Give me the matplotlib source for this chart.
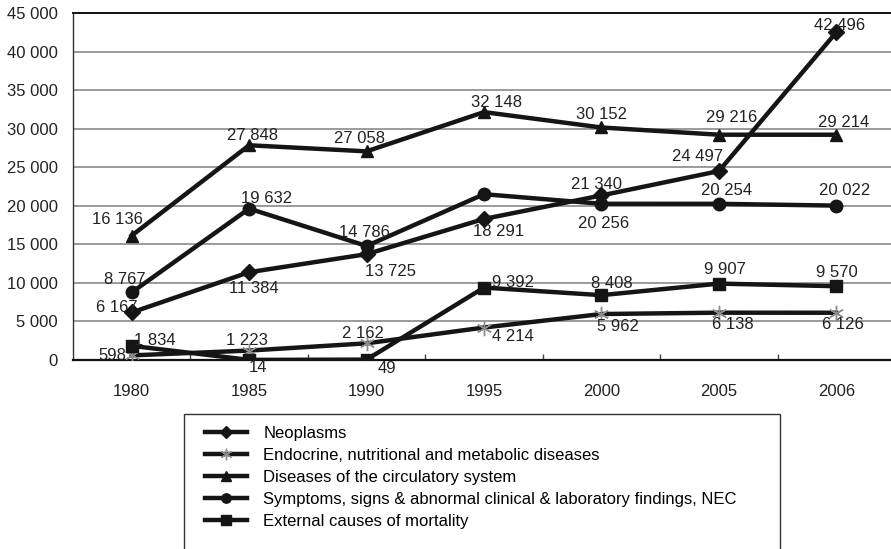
import matplotlib
matplotlib.use("Agg")
import matplotlib.pyplot as plt
from matplotlib.patches import Rectangle
from matplotlib.ticker import FuncFormatter

plt.rcParams["font.family"] = ["Liberation Sans", "DejaVu Sans"]

years = ["1980", "1985", "1990", "1995", "2000", "2005", "2006"]

neoplasms = [6167, 11384, 13725, 18291, 21340, 24497, 42496]
endocrine = [598, 1223, 2162, 4214, 5962, 6138, 6126]
circulatory = [16136, 27848, 27058, 32148, 30152, 29216, 29214]
symptoms = [8767, 19632, 14786, 21500, 20256, 20254, 20022]
external = [1834, 14, 49, 9392, 8408, 9907, 9570]

names = [
    "Neoplasms",
    "Endocrine, nutritional and metabolic diseases",
    "Diseases of the circulatory system",
    "Symptoms, signs & abnormal clinical & laboratory findings, NEC",
    "External causes of mortality",
]

# where each value label sits relative to its point (pixels, up is positive)
neo_off = [(-15, 5), (5, -16), (24, -17), (15, -13), (-5, 11), (-21, 15), (3, 7)]
endo_off = [(-19, 0), (-2, 10), (-4, 10), (29, -9), (17, -12), (14, -12), (7, -12)]
circ_off = [(-14, 16), (3, 10), (-7, 13), (13, 10), (0, 13), (13, 17), (7, 12)]
symp_off = [(-7, 13), (17, 10), (-2, 13), None, (2, -20), (8, 13), (8, 15)]
ext_off = [(23, 5), (9, -8), (20, -9), (29, 5), (10, 12), (6, 14), (1, 14)]


def spaced(v, pos=None):
    return f"{int(v):,}".replace(",", " ")


fig = plt.figure(figsize=(8.91, 5.49), dpi=100)
ax = fig.add_axes([73 / 891, 1 - 360 / 549, (895 - 73) / 891, (360 - 13) / 549])

x = list(range(len(years)))
ink = "#151515"
styles = [
    dict(marker="D", markersize=8, color=ink, markerfacecolor=ink, markeredgecolor=ink),
    dict(marker=(6, 2, 0), markersize=11, color=ink, markeredgecolor="#8c8c8c", markeredgewidth=1.0),
    dict(marker="^", markersize=9, color=ink, markerfacecolor=ink, markeredgecolor=ink),
    dict(marker="o", markersize=9, color=ink, markerfacecolor=ink, markeredgecolor=ink),
    dict(marker="s", markersize=9, color=ink, markerfacecolor=ink, markeredgecolor=ink),
]
series = [neoplasms, endocrine, circulatory, symptoms, external]
offsets = [neo_off, endo_off, circ_off, symp_off, ext_off]

for vals, name, st in zip(series, names, styles):
    ax.plot(x, vals, lw=3.2, label=name, zorder=3, **st)

for vals, offs in zip(series, offsets):
    for xi, v, off in zip(x, vals, offs):
        if off is None:
            continue
        ax.annotate(spaced(v), (xi, v), xytext=off, textcoords="offset pixels",
                    ha="center", va="center", fontsize=12, color="#222222", zorder=5)

ax.set_xlim(-0.5, len(years) - 0.5)
ax.set_ylim(0, 45000)
ax.set_yticks(range(0, 45001, 5000))
ax.yaxis.set_major_formatter(FuncFormatter(spaced))
ax.set_xticks(x)
ax.set_xticklabels(years)
ax.set_xticks([i + 0.5 for i in range(len(years) - 1)], minor=True)
ax.tick_params(axis="y", length=0, pad=11, labelsize=12, labelcolor="#222222")
ax.tick_params(axis="x", which="major", length=0, pad=17, labelsize=12, labelcolor="#222222")
ax.tick_params(axis="x", which="minor", direction="in", length=4, width=1, color="#444444")

ax.yaxis.grid(True, color="#8a8a8a", lw=1.2)
ax.set_axisbelow(True)
ax.spines["right"].set_visible(False)
ax.spines["top"].set_color("#111111")
ax.spines["top"].set_linewidth(1.4)
ax.spines["left"].set_color("#333333")
ax.spines["left"].set_linewidth(1.0)
ax.spines["bottom"].set_color("#111111")
ax.spines["bottom"].set_linewidth(1.6)

# legend box runs off the bottom of the figure
fig.patches.append(Rectangle((184 / 891, -0.05), (780 - 184) / 891, (1 - 414 / 549) + 0.05,
                             transform=fig.transFigure, fill=False, edgecolor="#333333",
                             lw=1.0, clip_on=False))
fig.legend(loc="upper left", bbox_to_anchor=(205 / 891, 1 - 426 / 549), frameon=False,
           fontsize=12, borderpad=0, borderaxespad=0, labelspacing=0.42,
           handlelength=2.5, handletextpad=1.0, markerscale=0.75)

fig.savefig("out.png", dpi=100)
